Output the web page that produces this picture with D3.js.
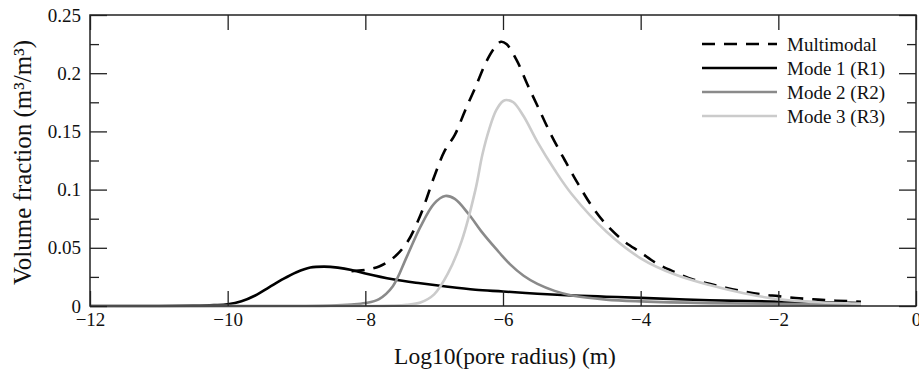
<!DOCTYPE html>
<html>
<head>
<meta charset="utf-8">
<script src="https://cdn.jsdelivr.net/npm/d3@7"></script>
<style>
  body { margin: 0; background: #fff; }
  svg text { font-family: "Liberation Serif", "Times New Roman", serif; fill: #111; }
</style>
</head>
<body>
<div id="chart"></div>
<script>
// values
const mode1X = [-12, -11, -10.5, -10.2, -10, -9.8, -9.6, -9.4, -9.2, -9.0, -8.8, -8.6, -8.4, -8.2, -8.0, -7.6, -7.2, -6.8, -6.4, -6.0, -5.5, -5.0, -4.5, -4.0, -3.0, -2.0, -1.0, -0.8];
const mode1Y = [0, 0, 0.0003, 0.0008, 0.0015, 0.004, 0.009, 0.016, 0.023, 0.029, 0.033, 0.0338, 0.033, 0.031, 0.028, 0.023, 0.0195, 0.0165, 0.014, 0.0125, 0.0105, 0.009, 0.008, 0.007, 0.005, 0.0037, 0.0028, 0.0026];

const mode2X = [-12, -9, -8.5, -8.2, -8.0, -7.8, -7.6, -7.4, -7.2, -7.0, -6.84, -6.7, -6.5, -6.3, -6.1, -5.9, -5.7, -5.5, -5.25, -5.0, -4.5, -4.0, -3.0, -2.0, -1.0, -0.8];
const mode2Y = [0, 0, 0.0003, 0.0012, 0.0025, 0.006, 0.017, 0.042, 0.068, 0.088, 0.0945, 0.092, 0.079, 0.063, 0.049, 0.036, 0.026, 0.019, 0.013, 0.009, 0.0055, 0.004, 0.0025, 0.0018, 0.0012, 0.0011];

const mode3X = [-12, -8, -7.6, -7.4, -7.2, -7.0, -6.8, -6.6, -6.4, -6.3, -6.2, -6.1, -6.0, -5.95, -5.85, -5.7, -5.5, -5.25, -5.0, -4.5, -4.0, -3.5, -3.0, -2.5, -2.0, -1.5, -1.0, -0.8];
const mode3Y = [0, 0, 0.0003, 0.001, 0.003, 0.01, 0.028, 0.056, 0.1, 0.13, 0.152, 0.168, 0.176, 0.177, 0.175, 0.163, 0.141, 0.117, 0.096, 0.064, 0.041, 0.027, 0.018, 0.011, 0.0058, 0.0035, 0.0023, 0.002];

const multiX = [-8.2, -8.0, -7.8, -7.6, -7.4, -7.2, -7.0, -6.85, -6.7, -6.55, -6.4, -6.25, -6.12, -6.03, -5.95, -5.8, -5.65, -5.5, -5.3, -5.1, -4.9, -4.7, -4.5, -4.25, -4.0, -3.75, -3.5, -3.25, -3.0, -2.75, -2.5, -2.25, -2.0, -1.75, -1.5, -1.25, -1.0, -0.8];
const multiY = [0.030, 0.031, 0.034, 0.041, 0.054, 0.078, 0.111, 0.133, 0.147, 0.168, 0.188, 0.209, 0.222, 0.227, 0.225, 0.211, 0.191, 0.172, 0.147, 0.125, 0.104, 0.085, 0.070, 0.056, 0.046, 0.036, 0.029, 0.023, 0.019, 0.0155, 0.0125, 0.010, 0.0085, 0.0069, 0.0058, 0.0048, 0.0042, 0.0037];

const xTicks = [-12, -10, -8, -6, -4, -2, 0];
const yTicks = [0, 0.05, 0.1, 0.15, 0.2, 0.25];
const yMinorTicks = [0.025, 0.075, 0.125, 0.175, 0.225];

const seriesNames = ['Multimodal', 'Mode 1 (R1)', 'Mode 2 (R2)', 'Mode 3 (R3)'];

const width = 919, height = 370;
const margin = { top: 15, right: 3, bottom: 64, left: 90 };
const innerW = width - margin.left - margin.right;
const innerH = height - margin.top - margin.bottom;

const series = [
  { name: seriesNames[0], x: multiX, y: multiY, color: '#000', dash: '13,9', width: 2.6 },
  { name: seriesNames[1], x: mode1X, y: mode1Y, color: '#000', dash: null, width: 2.6 },
  { name: seriesNames[2], x: mode2X, y: mode2Y, color: '#8a8a8a', dash: null, width: 2.6 },
  { name: seriesNames[3], x: mode3X, y: mode3Y, color: '#cbcbcb', dash: null, width: 2.6 },
];

const svg = d3.select('#chart')
  .append('svg')
  .attr('width', width)
  .attr('height', height);

const g = svg.append('g')
  .attr('transform', `translate(${margin.left},${margin.top})`);

const x = d3.scaleLinear().domain([-12, 0]).range([0, innerW]);
const y = d3.scaleLinear().domain([0, 0.25]).range([innerH, 0]);

const line = d3.line()
  .x(d => x(d[0]))
  .y(d => y(Math.max(0, d[1])))
  .curve(d3.curveCatmullRom.alpha(0.5));

// curves
series.forEach(s => {
  g.append('path')
    .datum(s.x.map((v, i) => [v, s.y[i]]))
    .attr('fill', 'none')
    .attr('stroke', s.color)
    .attr('stroke-width', s.width)
    .attr('stroke-dasharray', s.dash)
    .attr('d', line);
});

// axes, ticks pointing inward
const fmtY = d => d === 0 ? '0' : d3.format('')(d);
const fontSize = '19px';

const axBottom = g.append('g')
  .attr('transform', `translate(0,${innerH})`)
  .call(d3.axisBottom(x).tickValues(xTicks).tickSizeInner(-15).tickSizeOuter(0).tickPadding(7).tickFormat(d3.format('d')));
const axTop = g.append('g')
  .call(d3.axisTop(x).tickValues(xTicks).tickSizeInner(-15).tickSizeOuter(0).tickFormat(''));
const axLeft = g.append('g')
  .call(d3.axisLeft(y).tickValues(yTicks).tickSizeInner(-17).tickSizeOuter(0).tickPadding(9).tickFormat(fmtY));
const axLeftMinor = g.append('g')
  .call(d3.axisLeft(y).tickValues(yMinorTicks).tickSizeInner(-9).tickSizeOuter(0).tickFormat(''));
const axRight = g.append('g')
  .attr('transform', `translate(${innerW},0)`)
  .call(d3.axisRight(y).tickValues(yTicks).tickSizeInner(-17).tickSizeOuter(0).tickFormat(''));
const axRightMinor = g.append('g')
  .attr('transform', `translate(${innerW},0)`)
  .call(d3.axisRight(y).tickValues(yMinorTicks).tickSizeInner(-9).tickSizeOuter(0).tickFormat(''));

[axBottom, axTop, axLeft, axLeftMinor, axRight, axRightMinor].forEach(a => {
  a.selectAll('.domain').remove();
  a.selectAll('line').attr('stroke', '#222').attr('stroke-width', 1.3);
  a.selectAll('text')
    .style('font-family', '"Liberation Serif", "Times New Roman", serif')
    .style('font-size', fontSize)
    .attr('fill', '#111');
});

// frame
g.append('rect')
  .attr('width', innerW)
  .attr('height', innerH)
  .attr('fill', 'none')
  .attr('stroke', '#222')
  .attr('stroke-width', 1.5);

// axis titles
svg.append('text')
  .attr('x', margin.left + innerW / 2 + 2)
  .attr('y', height - 6)
  .attr('text-anchor', 'middle')
  .style('font-size', '23.5px')
  .text('Log10(pore radius) (m)');

svg.append('text')
  .attr('transform', `translate(31,${margin.top + innerH / 2 + 2}) rotate(-90)`)
  .attr('text-anchor', 'middle')
  .style('font-size', '25px')
  .text('Volume fraction (m³/m³)');

// legend
const legend = svg.append('g')
  .attr('transform', 'translate(702,44)');

series.forEach((s, i) => {
  const row = legend.append('g').attr('transform', `translate(0,${i * 24})`);
  row.append('line')
    .attr('x1', 0).attr('x2', 75)
    .attr('stroke', s.color)
    .attr('stroke-width', s.width)
    .attr('stroke-dasharray', s.dash);
  row.append('text')
    .attr('x', 85)
    .attr('dy', '0.35em')
    .style('font-size', '19px')
    .text(s.name);
});
</script>
</body>
</html>
